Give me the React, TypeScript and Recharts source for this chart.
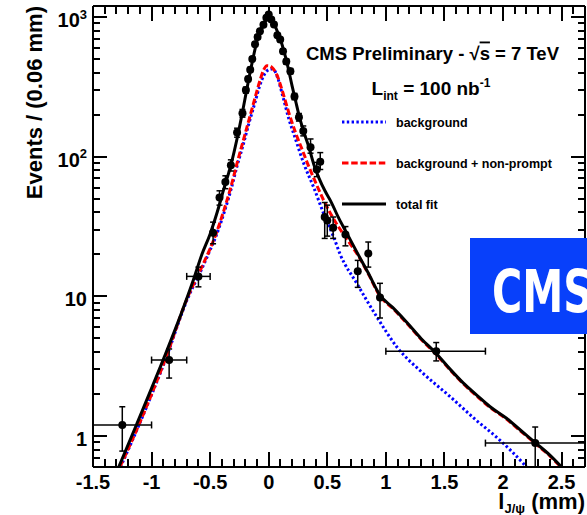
import React from 'react';
import { ComposedChart, Line, Scatter, XAxis, YAxis, ErrorBar, Legend } from 'recharts';

const W = 587;
const H = 515;
const FONT = '"Liberation Sans", Arial, Helvetica, sans-serif';

// frame geometry, shared by the chart layout and the frame tick marks
const Y_AXIS_W = 93;
const RIGHT_AXIS_W = 2;
const TOP_AXIS_H = 6;
const X_AXIS_H = 48;
const PLOT = { left: Y_AXIS_W, right: W - RIGHT_AXIS_W, top: TOP_AXIS_H, bottom: H - X_AXIS_H };

// ---- axes -------------------------------------------------------------
const X_DOMAIN: [number, number] = [-1.5, 2.7];
const X_MAJOR = [-1.5, -1, -0.5, 0, 0.5, 1, 1.5, 2, 2.5];
const X_LABELS = ['-1.5', '-1', '-0.5', '0', '0.5', '1', '1.5', '2', '2.5'];

const Y_DOMAIN: [number, number] = [0.6, 1200];
const Y_MAJOR = [1, 10, 100, 1000];
const Y_LABEL_BASE = ['1', '10', '10', '10'];
const Y_LABEL_EXP = ['', '', '2', '3'];

// minor ticks every 0.1 mm, and 1..9 per decade on the log axis
const X_TICKS: number[] = [];
for (let i = 0; i <= 42; i++) X_TICKS.push(Math.round((-1.5 + i * 0.1) * 10) / 10);
const Y_TICKS: number[] = [];
[0.1, 1, 10, 100, 1000].forEach((d) => {
  for (let m = 1; m <= 9; m++) {
    const v = Math.round(m * d * 1000) / 1000;
    if (v >= Y_DOMAIN[0] && v <= Y_DOMAIN[1]) Y_TICKS.push(v);
  }
});

// ---- measured data: Events / (0.06 mm) vs l_J/psi ---------------------
const dataX = [
  -1.25, -0.85, -0.6, -0.475, -0.42, -0.37, -0.323, -0.27, -0.224, -0.195,
  -0.176, -0.158, -0.14, -0.117, -0.095, -0.075, -0.045, -0.02, 0.0, 0.022,
  0.045, 0.074, 0.098, 0.122, 0.15, 0.185, 0.22, 0.258, 0.295, 0.357,
  0.41, 0.44, 0.478, 0.5, 0.55, 0.655, 0.76, 0.85, 0.95, 1.43, 2.275,
];
const dataY = [
  1.2, 3.5, 13.9, 28.5, 51, 66, 87, 149, 205, 300,
  360, 420, 500, 640, 720, 790, 880, 990, 1045, 960,
  885, 740, 690, 570, 480, 410, 270, 192, 153, 117,
  81, 92, 37, 35, 31, 27.7, 15.1, 20.3, 9.8, 4.05, 0.89,
];
const dataYLow = [
  0.78, 2.6, 11.7, 23.8, 45, 59, 79, 138, 192, 285,
  345, 404, 482, 618, 697, 765, 855, 962, 1015, 932,
  858, 716, 666, 548, 460, 392, 256, 180, 141, 106,
  72, 81, 26, 27, 26, 23, 11.6, 16.2, 7.0, 3.45, 0.6,
];
const dataYHigh = [
  1.62, 4.2, 16.2, 34, 57, 73, 95, 160, 218, 315,
  375, 436, 518, 662, 743, 815, 905, 1018, 1075, 988,
  912, 764, 714, 592, 500, 428, 284, 204, 166, 134,
  91, 107, 47, 45, 37, 31.6, 18.1, 24.5, 12.4, 4.67, 1.16,
];
// bin edges for the wide bins (null: bin narrower than the marker)
const binLow: (number | null)[] = [
  -1.5, -1.0, -0.7, null, null, null, null, null, null, null,
  null, null, null, null, null, null, null, null, null, null,
  null, null, null, null, null, null, null, null, null, null,
  null, null, null, null, null, null, null, null, null, 1.0, 1.85,
];
const binHigh: (number | null)[] = [
  -1.0, -0.7, -0.5, null, null, null, null, null, null, null,
  null, null, null, null, null, null, null, null, null, null,
  null, null, null, null, null, null, null, null, null, null,
  null, null, null, null, null, null, null, null, null, 1.85, 2.7,
];

// ---- fit components -----------------------------------------------------
const fitX = [
  -1.28, -1.13, -0.89, -0.75, -0.65, -0.57, -0.5, -0.44, -0.38, -0.32,
  -0.27, -0.224, -0.19, -0.16, -0.13, -0.1, -0.06, -0.03, 0, 0.03,
  0.06, 0.1, 0.13, 0.16, 0.2, 0.23, 0.26, 0.3, 0.343, 0.385,
  0.43, 0.48, 0.527, 0.6, 0.67, 0.77, 0.85, 0.95, 1.06, 1.18,
  1.3, 1.43, 1.55, 1.66, 1.78, 1.89, 2.03, 2.15, 2.28, 2.4, 2.5,
];
const fitY = [
  0.6, 1.2, 3.7, 7.4, 12.6, 20, 28, 40, 60, 89,
  135, 209, 295, 398, 525, 676, 840, 933, 990, 940,
  840, 690, 570, 455, 320, 250, 196, 150, 117, 88,
  70, 57, 48.5, 36, 28, 19.5, 14.7, 10.2, 8.3, 6.5,
  5.0, 3.9, 3.0, 2.4, 1.95, 1.62, 1.34, 1.1, 0.89, 0.73, 0.6,
];

const bkgNpX = [
  -1.27, -1.1, -0.88, -0.7, -0.56, -0.5, -0.45, -0.38, -0.32, -0.27,
  -0.22, -0.17, -0.12, -0.08, -0.045, -0.015, 0.01, 0.04, 0.07, 0.116,
  0.173, 0.23, 0.29, 0.33, 0.385, 0.47, 0.58, 0.67, 0.77, 0.85,
  0.95, 1.06, 1.18, 1.3, 1.43, 1.55, 1.66, 1.78, 1.89, 2.03,
  2.15, 2.28, 2.4, 2.5,
];
const bkgNpY = [
  0.6, 1.25, 3.6, 9.5, 17, 22, 28, 42, 62, 90,
  128, 182, 258, 340, 415, 448, 446, 425, 385, 296,
  205, 148, 110, 90, 70, 48.5, 33, 25.5, 19.2, 14.5,
  10.05, 8.18, 6.4, 4.93, 3.84, 2.96, 2.37, 1.92, 1.6, 1.32,
  1.085, 0.877, 0.72, 0.592,
];

const bkgX = [
  -1.265, -1.1, -0.88, -0.7, -0.56, -0.5, -0.45, -0.38, -0.32, -0.27,
  -0.22, -0.17, -0.12, -0.08, -0.04, -0.01, 0.02, 0.045, 0.075, 0.116,
  0.173, 0.215, 0.3, 0.385, 0.47, 0.555, 0.61, 0.754, 0.924, 1.094,
  1.32, 1.55, 1.77, 1.97, 2.17, 2.2,
];
const bkgY = [
  0.6, 1.24, 3.55, 9.3, 16.5, 21.5, 27, 40, 59, 86,
  120, 172, 240, 315, 385, 415, 425, 418, 370, 280,
  185, 145, 89, 60, 39, 26.5, 20, 12.3, 7.1, 4.34,
  2.8, 1.91, 1.3, 0.94, 0.64, 0.6,
];

const toCurve = (xs: number[], ys: number[]) => xs.map((x, i) => ({ x, y: ys[i] }));
const fitData = toCurve(fitX, fitY);
const bkgNpData = toCurve(bkgNpX, bkgNpY);
const bkgData = toCurve(bkgX, bkgY);

const points = dataX.map((x, i) => ({
  x,
  y: dataY[i],
  ex: binLow[i] === null ? [0, 0] : [x - (binLow[i] as number), (binHigh[i] as number) - x],
  ey: [dataY[i] - dataYLow[i], dataYHigh[i] - dataY[i]],
}));

const LEGEND = [
  { label: 'background', color: '#0000ff', dash: '2.4 2.4' },
  { label: 'background + non-prompt', color: '#ff0000', dash: '6.5 2.7' },
  { label: 'total fit', color: '#000000', dash: undefined as string | undefined },
];

const idxOf = (list: number[], v: number) => list.findIndex((m) => Math.abs(m - v) < 1e-6);
const TW = 2; // tick thickness

// position of a tick value along the frame edges
const frameX = (v: number) =>
  PLOT.left + ((v - X_DOMAIN[0]) / (X_DOMAIN[1] - X_DOMAIN[0])) * (PLOT.right - PLOT.left);
const frameY = (v: number) =>
  PLOT.bottom -
  ((Math.log10(v) - Math.log10(Y_DOMAIN[0])) / (Math.log10(Y_DOMAIN[1]) - Math.log10(Y_DOMAIN[0]))) *
    (PLOT.bottom - PLOT.top);

// ROOT-style tick marks on all four sides, pointing into the frame
const FrameTicks = () => (
  <g>
    {X_TICKS.map((v) => {
      const x = Math.round(frameX(v));
      const len = idxOf(X_MAJOR, v) >= 0 ? 15 : 8;
      return (
        <g key={`x${v}`}>
          <rect x={x - TW / 2} y={PLOT.bottom - len} width={TW} height={len} fill="#000" />
          <rect x={x - TW / 2} y={PLOT.top} width={TW} height={len} fill="#000" />
        </g>
      );
    })}
    {Y_TICKS.map((v) => {
      const y = Math.round(frameY(v));
      const len = idxOf(Y_MAJOR, v) >= 0 ? 14 : 7;
      return (
        <g key={`y${v}`}>
          <rect x={PLOT.left} y={y - TW / 2} width={len} height={TW} fill="#000" />
          <rect x={PLOT.right - len} y={y - TW / 2} width={len} height={TW} fill="#000" />
        </g>
      );
    })}
  </g>
);

// ---- tick labels (rendered by the axes) --------------------------------
const BottomLabel = (p: any) => {
  const i = idxOf(X_MAJOR, p.payload.value);
  if (i < 0) return <g />;
  return (
    <text x={p.x} y={Number(p.y) + 22} textAnchor="middle" fontFamily={FONT} fontWeight="bold" fontSize={20} fill="#000">
      {X_LABELS[i]}
    </text>
  );
};

const LeftLabel = (p: any) => {
  const i = idxOf(Y_MAJOR, p.payload.value);
  if (i < 0) return <g />;
  return (
    <text x={Number(p.x) - 6} y={Number(p.y) + 10} textAnchor="end" fontFamily={FONT} fontWeight="bold" fontSize={20} fill="#000">
      {Y_LABEL_BASE[i]}
      {Y_LABEL_EXP[i] && (
        <tspan dy={-8.5} fontSize={13}>
          {Y_LABEL_EXP[i]}
        </tspan>
      )}
    </text>
  );
};

const XTitle = (p: any) => {
  const vb = p.viewBox;
  return (
    <text x={vb.x + vb.width} y={vb.y + 42} textAnchor="end" fontFamily={FONT} fontWeight="bold" fontSize={22} fill="#000">
      l
      <tspan dy={4} fontSize={13}>J/ψ</tspan>
      <tspan dy={-4}> (mm)</tspan>
    </text>
  );
};

const YTitle = (p: any) => {
  const vb = p.viewBox;
  const x = vb.x + 42;
  const y = vb.y;
  return (
    <text x={x} y={y} transform={`rotate(-90, ${x}, ${y})`} textAnchor="end" fontFamily={FONT} fontWeight="bold" fontSize={22} fill="#000">
      Events / (0.06 mm)
    </text>
  );
};

const LegendBox = () => (
  <svg width={240} height={120}>
    {LEGEND.map((it, i) => {
      const cy = 22 + i * 41;
      return (
        <g key={it.label}>
          <line x1={6} x2={50} y1={cy} y2={cy} stroke={it.color} strokeWidth={3} strokeDasharray={it.dash} />
          <text x={60} y={cy + 4.5} fontFamily={FONT} fontWeight="bold" fontSize={12.5} fill="#000">
            {it.label}
          </text>
        </g>
      );
    })}
  </svg>
);

const frame = { stroke: '#000', strokeWidth: 2 };

export default function App() {
  return (
    <div style={{ position: 'absolute', left: 0, top: 0, width: W, height: H, overflow: 'hidden', background: '#fff' }}>
      <ComposedChart width={W} height={H} margin={{ top: 0, right: 0, bottom: 0, left: 0 }}>
        <XAxis
          xAxisId="b"
          dataKey="x"
          type="number"
          domain={X_DOMAIN}
          allowDataOverflow
          ticks={X_MAJOR}
          interval={0}
          tick={(p: any) => <BottomLabel {...p} />}
          tickLine={false}
          tickSize={0}
          tickMargin={0}
          axisLine={frame}
          height={X_AXIS_H}
          label={{ content: (p: any) => <XTitle {...p} /> }}
        />
        <XAxis
          xAxisId="t"
          orientation="top"
          dataKey="x"
          type="number"
          domain={X_DOMAIN}
          allowDataOverflow
          tick={false}
          tickLine={false}
          axisLine={frame}
          height={TOP_AXIS_H}
        />
        <YAxis
          yAxisId="l"
          type="number"
          scale="log"
          domain={Y_DOMAIN}
          allowDataOverflow
          ticks={Y_MAJOR}
          interval={0}
          tick={(p: any) => <LeftLabel {...p} />}
          tickLine={false}
          tickSize={0}
          tickMargin={0}
          axisLine={frame}
          width={Y_AXIS_W}
          label={{ content: (p: any) => <YTitle {...p} /> }}
        />
        <YAxis
          yAxisId="r"
          orientation="right"
          type="number"
          scale="log"
          domain={Y_DOMAIN}
          allowDataOverflow
          tick={false}
          tickLine={false}
          axisLine={frame}
          width={RIGHT_AXIS_W}
        />
        <Line xAxisId="b" yAxisId="l" data={bkgData} dataKey="y" type="monotone" stroke="#0000ff" strokeWidth={3} strokeDasharray="2.4 2.4" dot={false} isAnimationActive={false} />
        <Line xAxisId="b" yAxisId="l" data={bkgNpData} dataKey="y" type="monotone" stroke="#ff0000" strokeWidth={3} strokeDasharray="6.5 2.7" dot={false} isAnimationActive={false} />
        <Line xAxisId="b" yAxisId="l" data={fitData} dataKey="y" type="monotone" stroke="#000000" strokeWidth={3} dot={false} isAnimationActive={false} />
        <Scatter
          xAxisId="b"
          yAxisId="l"
          data={points}
          dataKey="y"
          isAnimationActive={false}
          shape={(p: any) => <circle cx={p.cx} cy={p.cy} r={4} fill="#000" />}
        >
          <ErrorBar direction="x" dataKey="ex" width={3.5} stroke="#000" strokeWidth={1.5} />
          <ErrorBar direction="y" dataKey="ey" width={3} stroke="#000" strokeWidth={1.5} />
        </Scatter>
        <Legend
          layout="vertical"
          align="center"
          verticalAlign="middle"
          wrapperStyle={{ left: 336, top: 100, width: 240, height: 120 }}
          content={() => <LegendBox />}
        />
      </ComposedChart>
      <svg width={W} height={H} style={{ position: 'absolute', left: 0, top: 0, pointerEvents: 'none' }}>
        <FrameTicks />
        <text x={432.5} y={59.5} textAnchor="middle" fontFamily={FONT} fontWeight="bold" fontSize={18.5} fill="#000">
          CMS Preliminary - √<tspan style={{ textDecoration: 'overline' }}>s</tspan> = 7 TeV
        </text>
        <text x={431} y={94.5} textAnchor="middle" fontFamily={FONT} fontWeight="bold" fontSize={19} fill="#000">
          L<tspan dy={5} fontSize={12}>int</tspan>
          <tspan dy={-5}> = 100 nb</tspan>
          <tspan dy={-8} fontSize={12}>-1</tspan>
        </text>
        <rect x={470} y={238} width={130} height={96} fill="#0840fa" />
        <text x={492} y={312} fill="#fff" fontFamily='"DejaVu Sans", sans-serif' fontWeight="bold" fontSize={58} textLength={101} lengthAdjust="spacingAndGlyphs">
          CMS
        </text>
      </svg>
    </div>
  );
}
